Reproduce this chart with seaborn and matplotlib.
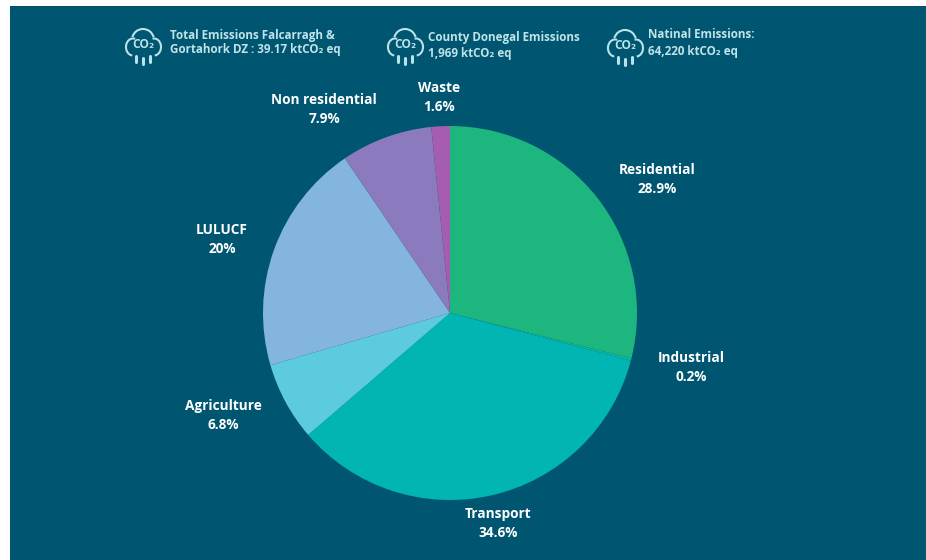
import matplotlib
matplotlib.use("Agg")
import matplotlib.pyplot as plt
from matplotlib.patches import Rectangle, Arc
import seaborn as sns

categories = ["Residential", "Industrial", "Transport", "Agriculture", "LULUCF", "Non residential", "Waste"]
values = [28.9, 0.2, 34.6, 6.8, 20, 7.9, 1.6]
value_labels = ["28.9%", "0.2%", "34.6%", "6.8%", "20%", "7.9%", "1.6%"]
slice_colors = ["#1DB67F", "#0FB59C", "#00B5B2", "#5CCBDD", "#83B5DE", "#8B7ABD", "#A45DB0"]
label_centers = [(657, 180), (691, 368), (498, 524), (223, 416), (222, 240), (324, 110), (439, 98)]
header_lines = [
    ["Total Emissions Falcarragh &", "Gortahork DZ : 39.17 ktCO\u2082 eq"],
    ["County Donegal Emissions", "1,969 ktCO\u2082 eq"],
    ["Natinal Emissions:", "64,220 ktCO\u2082 eq"],
]
header_x = [170, 428, 648]
header_y = [(36, 50), (37, 53), (34, 52)]
icon_centers = [(143, 44), (405, 44), (625, 45)]

BG = "#005670"
W, H = 926, 560
FONT = ["Open Sans", "DejaVu Sans"]

sns.set_theme(style="white")
plt.rcParams["font.family"] = FONT

fig = plt.figure(figsize=(W / 100, H / 100), dpi=100, facecolor="white")

# overlay in pixel coordinates
ov = fig.add_axes([0, 0, 1, 1])
ov.set_xlim(0, W)
ov.set_ylim(H, 0)
ov.axis("off")
ov.add_patch(Rectangle((10, 6), W - 10, H - 6, facecolor=BG, edgecolor="none"))

# pie
cx, cy, r = 450, 313, 187
ax = fig.add_axes([(cx - r) / W, 1 - (cy + r) / H, 2 * r / W, 2 * r / H])
ax.patch.set_alpha(0)
ax.pie(values, colors=sns.color_palette(slice_colors), startangle=90, counterclock=False,
       radius=1, wedgeprops={"linewidth": 0})
ax.set_xlim(-1, 1)
ax.set_ylim(-1, 1)

# slice labels
for name, val, (x, y) in zip(categories, value_labels, label_centers):
    ov.text(x, y - 10, name, color="white", fontsize=9.8, fontweight="bold", ha="center", va="center", zorder=5)
    ov.text(x, y + 9, val, color="white", fontsize=9.8, fontweight="bold", ha="center", va="center", zorder=5)

# header
ICON = "#B9E2EA"
def draw_icon(x, y):
    lw = 1.5
    for (dx, dy, w, h, t1, t2) in [(-10, 3, 14, 17, 75, 265), (0, -4, 22, 22, 15, 165), (11, 3, 14, 17, 275, 100)]:
        ov.add_patch(Arc((x + dx, y + dy), w, h, theta1=-t2, theta2=-t1, color=ICON, lw=lw, zorder=5))
    ov.text(x, y + 0.5, "CO\u2082", color=ICON, fontsize=8.6, fontweight="bold", ha="center", va="center", zorder=5)
    for dx, top in [(-7, 12), (0, 14), (7, 12)]:
        ov.plot([x + dx, x + dx], [y + top, y + top + 6], color=ICON, lw=2.2, solid_capstyle="round", zorder=5)

for lines, tx, (y1, y2), (ix, iy) in zip(header_lines, header_x, header_y, icon_centers):
    draw_icon(ix, iy)
    ov.text(tx, y1, lines[0], color="#BFE3EA", fontsize=8.4, fontweight="bold", ha="left", va="center", zorder=5)
    ov.text(tx, y2, lines[1], color="#BFE3EA", fontsize=8.4, fontweight="bold", ha="left", va="center", zorder=5)

fig.savefig("out.png", dpi=100, facecolor="white")
